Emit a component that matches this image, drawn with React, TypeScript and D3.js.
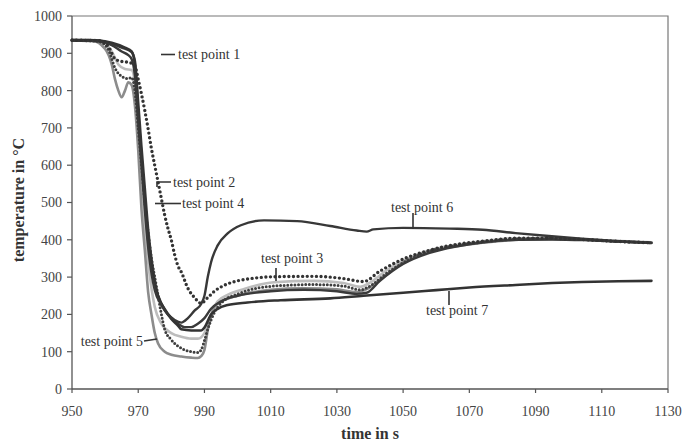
import React from "react";
import * as d3 from "d3";

type Pt = [number, number];

// Temperature histories (time in s, temperature in °C) for each test point
const tp1: Pt[] = [
  [950, 935], [955, 936], [959, 933], [962, 925], [965, 915], [968, 903], [969, 880],
  [970, 770], [971, 650], [972, 540], [973, 430], [974, 350], [975, 290], [976, 250],
  [978, 215], [980, 190], [982, 175], [984, 166], [986, 166], [988, 175], [990, 190],
  [992, 215], [995, 235], [1000, 250], [1010, 262], [1020, 266], [1030, 262], [1036, 255],
  [1039, 258], [1043, 290], [1050, 335], [1058, 365], [1066, 382], [1075, 394], [1085, 400],
  [1095, 401], [1105, 399], [1115, 395], [1125, 391],
];
const tp2: Pt[] = [
  [950, 935], [958, 932], [961, 910], [963, 860], [965, 838], [967, 832], [968, 835],
  [969, 800], [970, 700], [971, 600], [972, 500], [973, 420], [974, 350], [975, 300],
  [976, 250], [977, 200], [978, 160], [980, 132], [982, 115], [984, 105], [986, 100],
  [988, 98], [989, 105], [990, 130], [991, 160], [993, 205], [995, 230], [1001, 258],
  [1011, 276], [1023, 280], [1032, 276], [1037, 266], [1040, 276], [1045, 310], [1052, 348],
  [1058, 370], [1065, 383], [1074, 394], [1084, 402], [1094, 404], [1104, 401], [1114, 396],
  [1125, 392],
];
const tp3: Pt[] = [
  [950, 935], [958, 934], [961, 918], [963, 885], [965, 878], [967, 876], [969, 866],
  [970, 830], [971, 790], [972, 746], [973, 697], [974, 644], [975, 599], [976, 555],
  [977, 510], [978, 466], [979, 430], [980, 399], [981, 360], [982, 330], [983, 314],
  [985, 270], [987, 245], [989, 230], [991, 245], [993, 262], [996, 278], [1000, 290],
  [1004, 296], [1011, 301], [1023, 302], [1032, 296], [1038, 288], [1043, 316], [1051, 352],
  [1058, 372], [1065, 386], [1074, 396], [1084, 404], [1094, 404], [1104, 401], [1114, 396],
  [1125, 392],
];
const tp4: Pt[] = [
  [950, 935], [958, 933], [962, 905], [964, 870], [966, 858], [968, 855], [969, 820],
  [970, 700], [971, 570], [972, 440], [973, 340], [974, 270], [975, 220], [977, 175],
  [980, 150], [983, 140], [986, 135], [988, 135], [990, 150], [992, 200], [994, 235],
  [997, 252], [1002, 268], [1011, 286], [1023, 290], [1032, 284], [1037, 274], [1040, 285],
  [1045, 318], [1052, 352], [1058, 372], [1065, 385], [1074, 396], [1084, 404], [1094, 405],
  [1104, 402], [1114, 397], [1125, 393],
];
const tp5: Pt[] = [
  [950, 935], [956, 934], [960, 912], [962, 870], [963, 830], [964, 800], [965, 782],
  [966, 800], [967, 822], [968, 815], [969, 760], [970, 640], [971, 480], [972, 372],
  [973, 260], [974, 200], [975, 150], [976, 122], [978, 100], [980, 92], [983, 87],
  [986, 84], [988, 83], [989, 88], [990, 105], [991, 158], [992, 195], [993, 220],
  [996, 238], [1000, 250], [1010, 266], [1020, 270], [1030, 267], [1036, 260], [1039, 268],
  [1044, 300], [1051, 345], [1058, 367], [1064, 380], [1074, 392], [1084, 400], [1094, 402],
  [1104, 400], [1114, 396], [1125, 392],
];
const tp6: Pt[] = [
  [950, 934], [958, 932], [962, 922], [965, 905], [967, 895], [968, 885], [969, 840],
  [970, 720], [971, 600], [972, 480], [973, 380], [974, 310], [975, 265], [977, 225],
  [979, 200], [981, 185], [983, 178], [985, 190], [987, 210], [989, 228], [990, 250],
  [991, 300], [992, 340], [994, 385], [997, 417], [1001, 439], [1008, 452], [1018, 450],
  [1028, 437], [1036, 425], [1039, 422], [1041, 428], [1050, 432], [1064, 430], [1074, 427],
  [1084, 418], [1094, 410], [1104, 403], [1114, 397], [1125, 392],
];
const tp7: Pt[] = [
  [950, 936], [958, 934], [962, 928], [966, 915], [968, 905], [969, 870], [970, 740],
  [971, 620], [972, 510], [973, 400], [974, 330], [975, 280], [976, 250], [978, 212],
  [980, 188], [982, 170], [983, 160], [986, 157], [989, 157], [990, 165], [992, 200],
  [994, 215], [997, 225], [1003, 232], [1013, 238], [1028, 243], [1038, 250], [1050, 258],
  [1060, 265], [1070, 272], [1084, 279], [1095, 284], [1104, 287], [1115, 289], [1125, 290],
];

const xTicks = [950, 970, 990, 1010, 1030, 1050, 1070, 1090, 1110, 1130];
const yTicks = [0, 100, 200, 300, 400, 500, 600, 700, 800, 900, 1000];

const seriesStyles = [
  { data: tp4, color: "#bdbdbd", width: 2.6, dash: "" },
  { data: tp5, color: "#8c8c8c", width: 2.6, dash: "" },
  { data: tp2, color: "#3f3f3f", width: 3, dash: "0 3.6" },
  { data: tp1, color: "#3a3a3a", width: 2.4, dash: "" },
  { data: tp7, color: "#333333", width: 2.6, dash: "" },
  { data: tp6, color: "#383838", width: 2.4, dash: "" },
  { data: tp3, color: "#333333", width: 3.4, dash: "0 4.6" },
];

const font = "'Liberation Serif', 'Times New Roman', serif";

export default function App() {
  const x = d3.scaleLinear().domain([950, 1130]).range([72, 668]);
  const y = d3.scaleLinear().domain([0, 1000]).range([389, 16]);
  const line = d3
    .line<Pt>()
    .x((d) => x(d[0]))
    .y((d) => y(d[1]))
    .curve(d3.curveMonotoneX);

  const axisColor = "#555";
  const labelColor = "#444";

  return (
    <svg
      width={692}
      height={445}
      style={{ position: "absolute", left: 0, top: 0, background: "#fff" }}
      fontFamily={font}
    >
      {/* plot frame: top and right borders */}
      <path d={`M${x(950)},${y(1000)} H${x(1130)} V${y(0)}`} fill="none" stroke="#777" strokeWidth={1.2} />

      {/* y axis */}
      <line x1={x(950)} x2={x(950)} y1={y(0)} y2={y(1000)} stroke={axisColor} strokeWidth={1.3} />
      {yTicks.map((t) => (
        <g key={t}>
          <line x1={x(950) - 5} x2={x(950)} y1={y(t)} y2={y(t)} stroke={axisColor} strokeWidth={1.2} />
          <text x={62} y={y(t)} dy="0.35em" textAnchor="end" fontSize={14} fill={labelColor}>
            {t}
          </text>
        </g>
      ))}

      {/* x axis */}
      <line x1={x(950)} x2={x(1130)} y1={y(0)} y2={y(0)} stroke={axisColor} strokeWidth={1.3} />
      {xTicks.map((t) => (
        <g key={t}>
          <line x1={x(t)} x2={x(t)} y1={y(0)} y2={y(0) + 4} stroke={axisColor} strokeWidth={1.2} />
          <text x={x(t)} y={416} textAnchor="middle" fontSize={14} fill={labelColor}>
            {t}
          </text>
        </g>
      ))}

      {/* axis titles */}
      <text x={370} y={439} textAnchor="middle" fontSize={16} fontWeight="bold" fill="#333">
        time in s
      </text>
      <text
        transform="translate(24,200) rotate(-90)"
        textAnchor="middle"
        fontSize={16}
        fontWeight="bold"
        fill="#333"
      >
        temperature in °C
      </text>

      {/* temperature curves */}
      {seriesStyles.map((s, i) => (
        <path
          key={i}
          d={line(s.data) ?? ""}
          fill="none"
          stroke={s.color}
          strokeWidth={s.width}
          strokeDasharray={s.dash || undefined}
          strokeLinecap="round"
          strokeLinejoin="round"
        />
      ))}

      {/* callouts */}
      <g stroke="#333" strokeWidth={1.6} fill="none">
        <line x1={161} x2={175} y1={54.5} y2={54.5} />
        <path d="M171,182 H157 V187" />
        <line x1={155} x2={181} y1={203.5} y2={203.5} />
        <line x1={144} x2={157} y1={341} y2={339} />
        <line x1={276} x2={276} y1={268} y2={281} />
        <line x1={413} x2={413} y1={213} y2={229} />
        <line x1={449} x2={449} y1={291} y2={305} />
      </g>
      <g fontSize={14} fill="#333">
        <text x={178} y={54.5} dy="0.35em">test point 1</text>
        <text x={173} y={182} dy="0.35em">test point 2</text>
        <text x={261} y={258} dy="0.35em">test point 3</text>
        <text x={182} y={203.5} dy="0.35em">test point 4</text>
        <text x={143} y={341} dy="0.35em" textAnchor="end">test point 5</text>
        <text x={391} y={207} dy="0.35em">test point 6</text>
        <text x={426} y={310} dy="0.35em">test point 7</text>
      </g>
    </svg>
  );
}
